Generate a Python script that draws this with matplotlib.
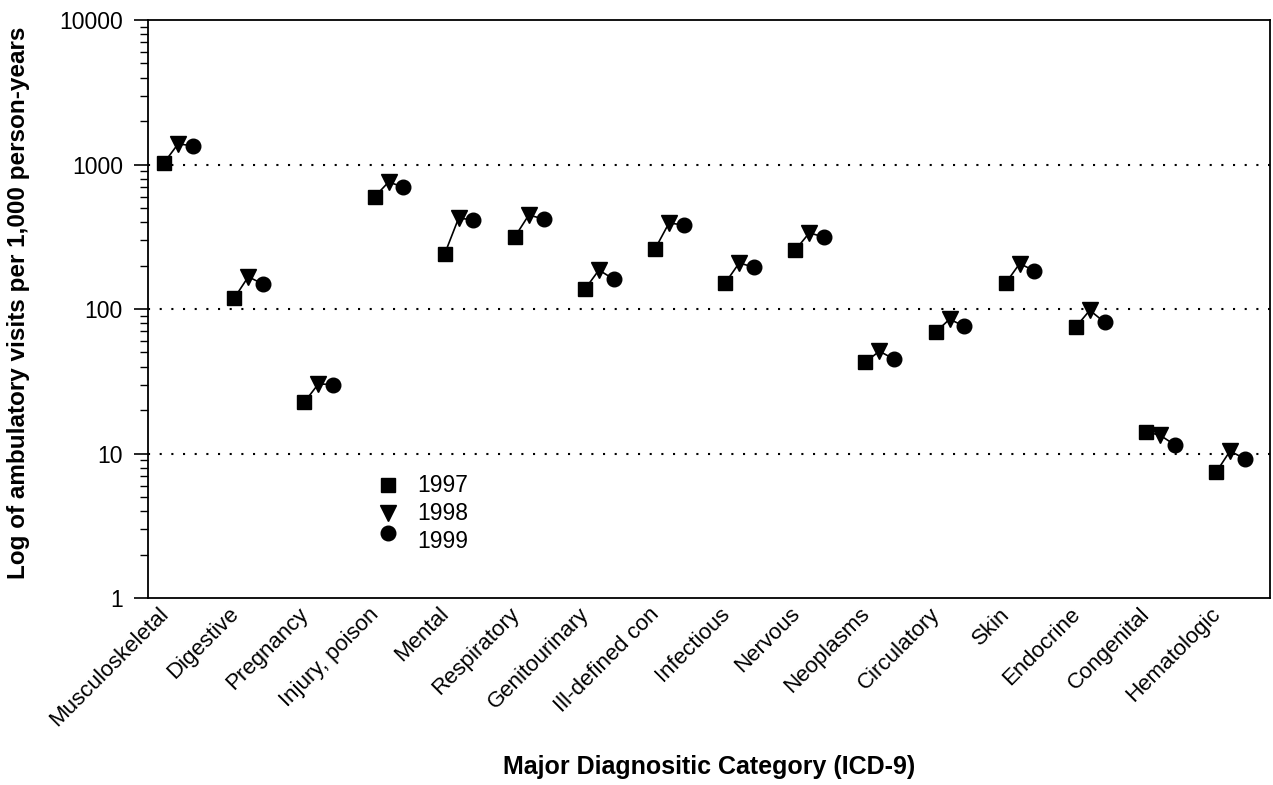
import numpy as np
import matplotlib
matplotlib.use("Agg")
import matplotlib.pyplot as plt

plt.rcParams['font.family'] = ['Liberation Sans', 'DejaVu Sans']

# Datos (visitas por 1,000 personas-año)
categorias = ["Musculoskeletal", "Digestive", "Pregnancy", "Injury, poison", "Mental",
              "Respiratory", "Genitourinary", "Ill-defined con", "Infectious", "Nervous",
              "Neoplasms", "Circulatory", "Skin", "Endocrine", "Congenital", "Hematologic"]
v1997 = [1030, 119, 22.7, 596, 240, 315, 137, 260, 151, 256, 43, 69, 151, 75, 14.1, 7.4]
v1998 = [1390, 167, 30.3, 756, 426, 447, 186, 394, 208, 336, 51, 85, 206, 98, 13.4, 10.4]
v1999 = [1345, 149, 30.0, 699, 413, 420, 161, 381, 195, 315, 45, 76, 184, 81, 11.5, 9.2]
anios = ["1997", "1998", "1999"]
marcadores = ["s", "v", "o"]
tamanos = [10, 11, 10.5]
desplaz = [-0.27, -0.07, 0.14]

fig = plt.figure(figsize=(12.73, 7.85), dpi=100)
ax = fig.add_axes([148/1273, 1 - 598/785, 1122/1273, 578/785])

x = np.arange(len(categorias))
series = [v1997, v1998, v1999]

# lineas que unen los tres años de cada categoria
for i in range(len(categorias)):
    xs = [x[i] + d for d in desplaz]
    ys = [s[i] for s in series]
    ax.plot(xs, ys, color='black', lw=1.2, zorder=2)

for s, m, ms, d in zip(series, marcadores, tamanos, desplaz):
    ax.plot(x + d, s, linestyle='none', marker=m, markersize=ms, color='black', zorder=3)

# lineas punteadas de referencia
for g in [10, 100, 1000]:
    ax.axhline(g, color='black', lw=1.5, linestyle=(0, (1, 4.6)), zorder=1)

ax.set_yscale('log')
ax.set_ylim(1, 10000)
ax.set_xlim(-0.5, len(categorias) - 0.5)
ax.set_yticks([1, 10, 100, 1000, 10000])
ax.set_yticklabels(["1", "10", "100", "1000", "10000"])
ax.tick_params(axis='y', which='major', direction='out', length=10, width=1.2,
               labelsize=16.5, pad=8)
ax.tick_params(axis='y', which='minor', direction='out', length=6, width=1.0)
ax.yaxis.set_minor_formatter(matplotlib.ticker.NullFormatter())

ax.set_xticks(x - 0.36)
ax.set_xticklabels(categorias, rotation=45, ha='right', rotation_mode='anchor')
ax.tick_params(axis='x', length=0, labelsize=16, pad=4)

for sp in ax.spines.values():
    sp.set_linewidth(1.3)

ax.set_ylabel("Log of ambulatory visits per 1,000 person-years", fontsize=17.5,
              fontweight='bold')
ax.yaxis.set_label_coords(-0.105, 0.51)
ax.set_xlabel("Major Diagnositic Category (ICD-9)", fontsize=18, fontweight='bold')
ax.xaxis.set_label_coords(0.5, -0.272)

# leyenda manual
leg_y_marc = [0.1955, 0.147, 0.1125]
leg_y_txt = [0.1955, 0.147, 0.097]
for m, ms, a, ym, yt in zip(marcadores, tamanos, anios, leg_y_marc, leg_y_txt):
    ax.plot([0.214], [ym], marker=m, markersize=ms, color='black',
            transform=ax.transAxes, clip_on=False)
    ax.text(0.24, yt, a, transform=ax.transAxes, fontsize=16.5, va='center', ha='left')

fig.savefig("out.png", dpi=100)
